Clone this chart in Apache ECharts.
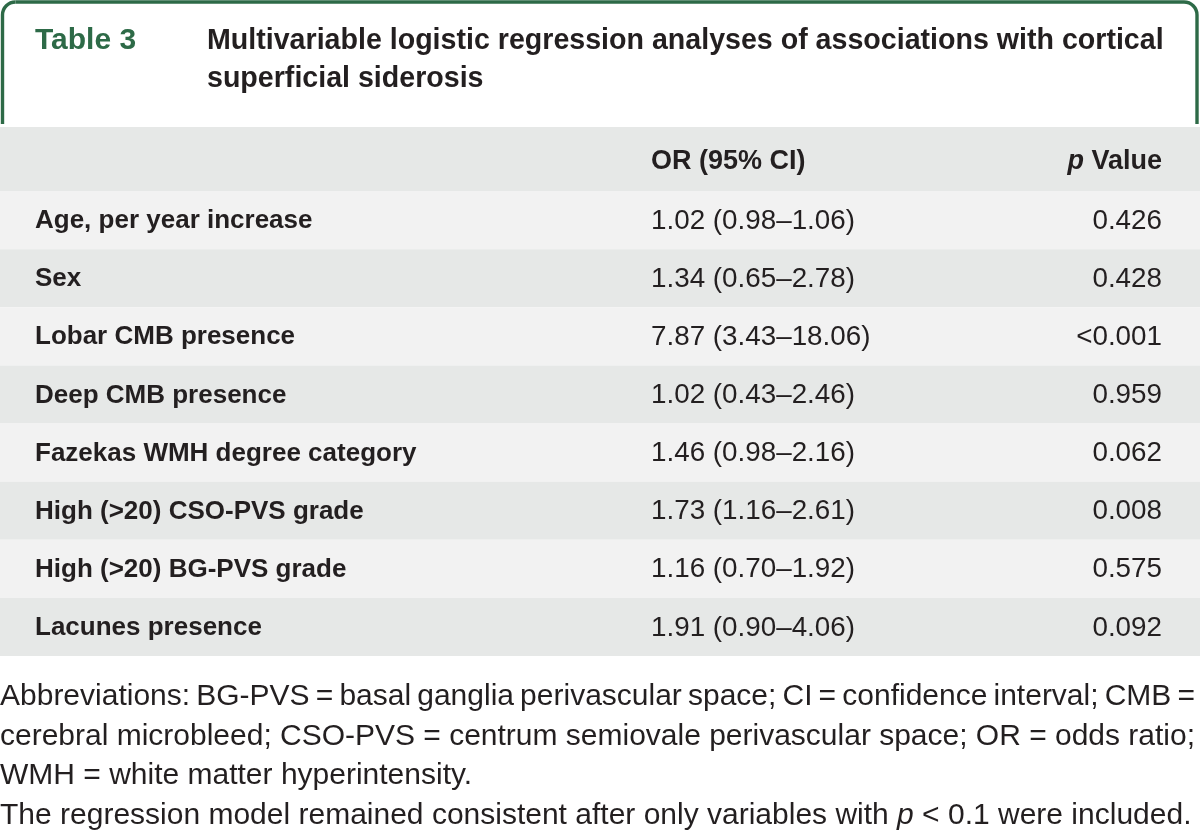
<!DOCTYPE html>
<html>
<head>
<meta charset="utf-8">
<script src="https://cdn.jsdelivr.net/npm/echarts@6/dist/echarts.min.js"></script>
<style>html,body{margin:0;padding:0;background:#fff}#c{width:1200px;height:832px}</style>
</head>
<body>
<div id="c"></div>
<script>
// ---- data ----
const variables = [
  'Age, per year increase',
  'Sex',
  'Lobar CMB presence',
  'Deep CMB presence',
  'Fazekas WMH degree category',
  'High (>20) CSO-PVS grade',
  'High (>20) BG-PVS grade',
  'Lacunes presence'
];
const oddsRatios = [1.02, 1.34, 7.87, 1.02, 1.46, 1.73, 1.16, 1.91];
const ciLower   = [0.98, 0.65, 3.43, 0.43, 0.98, 1.16, 0.70, 0.90];
const ciUpper   = [1.06, 2.78, 18.06, 2.46, 2.16, 2.61, 1.92, 4.06];
const pValues   = ['0.426', '0.428', '<0.001', '0.959', '0.062', '0.008', '0.575', '0.092'];
const columnHeaders = ['OR (95% CI)', 'p Value'];
const tableLabel = 'Table 3';
const titleLines = ['Multivariable logistic regression analyses of associations with cortical', 'superficial siderosis'];
const footnoteLines = [
  'Abbreviations: BG-PVS = basal ganglia perivascular space; CI = confidence interval; CMB =',
  'cerebral microbleed; CSO-PVS = centrum semiovale perivascular space; OR = odds ratio;',
  'WMH = white matter hyperintensity.',
  'The regression model remained consistent after only variables with {i|p} < 0.1 were included.'
];
const justifiedLines = [true, true, false, false];

// ---- style ----
const FONT = '"Liberation Sans", Arial, Helvetica, sans-serif';
const GREEN = '#2d6a47';
const INK = '#231f20';
const LIGHT = '#f2f2f2';
const DARK = '#e6e8e7';
const FOOT_FONT = '30px ' + FONT;

const chart = echarts.init(document.getElementById('c'), null, {renderer: 'canvas'});

function ciText(i) {
  return oddsRatios[i].toFixed(2) + ' (' + ciLower[i].toFixed(2) + '\u2013' + ciUpper[i].toFixed(2) + ')';
}

const measureCtx = document.createElement('canvas').getContext('2d');
function textWidth(t, font) { measureCtx.font = font; return measureCtx.measureText(t).width; }

const graphics = [];
// green frame
const g = {stroke: GREEN, lineWidth: 3.4, fill: null};
const R = 13;
graphics.push({type: 'line', shape: {x1: 2.5, y1: 124, x2: 2.5, y2: 2 + R}, style: g});
graphics.push({type: 'arc', shape: {cx: 2.5 + R, cy: 2 + R, r: R, startAngle: Math.PI, endAngle: Math.PI * 1.5}, style: g});
graphics.push({type: 'line', shape: {x1: 2.5 + R, y1: 2, x2: 1197 - R, y2: 2}, style: g});
graphics.push({type: 'arc', shape: {cx: 1197 - R, cy: 2 + R, r: R, startAngle: Math.PI * 1.5, endAngle: Math.PI * 2}, style: g});
graphics.push({type: 'line', shape: {x1: 1197, y1: 2 + R, x2: 1197, y2: 124}, style: g});
// title
graphics.push({type: 'text', x: 35, y: 41, style: {text: tableLabel, font: 'bold 30px ' + FONT, fill: GREEN, verticalAlign: 'middle'}});
titleLines.forEach((t, k) => {
  graphics.push({type: 'text', x: 207, y: 41 + k * 38.5, style: {text: t, font: 'bold 28.6px ' + FONT, fill: INK, verticalAlign: 'middle'}});
});
// header band
graphics.push({type: 'rect', shape: {x: 0, y: 127, width: 1200, height: 64}, style: {fill: DARK}});
graphics.push({type: 'text', x: 651, y: 162, style: {text: columnHeaders[0], font: 'bold 27px ' + FONT, fill: INK, verticalAlign: 'middle'}});
graphics.push({type: 'text', x: 1162, y: 162, style: {
  text: '{i|' + columnHeaders[1].split(' ')[0] + '} ' + columnHeaders[1].split(' ').slice(1).join(' '),
  font: 'bold 27px ' + FONT, fill: INK, align: 'right', verticalAlign: 'middle',
  rich: {i: {fontStyle: 'italic', fontWeight: 'bold', fontSize: 27, fontFamily: FONT, fill: INK}}
}});
// footnotes
const FOOT_WIDTH = 1195;
footnoteLines.forEach((t, k) => {
  const y = 697 + k * 39.6;
  if (justifiedLines[k]) {
    const words = t.split(' ');
    const widths = words.map(w => textWidth(w, FOOT_FONT));
    const total = widths.reduce((a, b) => a + b, 0);
    const gap = (FOOT_WIDTH - total) / (words.length - 1);
    let x = 0;
    words.forEach((w, j) => {
      graphics.push({type: 'text', x: x, y: y, style: {text: w, font: FOOT_FONT, fill: INK, verticalAlign: 'middle'}});
      x += widths[j] + gap;
    });
  } else {
    graphics.push({type: 'text', x: 0, y: y, style: {
      text: t, font: FOOT_FONT, fill: INK, verticalAlign: 'middle',
      rich: {i: {fontStyle: 'italic', fontSize: 30, fontFamily: FONT, fill: INK}}
    }});
  }
});

const option = {
  animation: false,
  backgroundColor: '#ffffff',
  grid: {left: 0, right: 0, top: 191, bottom: 176, containLabel: false},
  xAxis: {type: 'value', min: 0, max: 1, show: false},
  yAxis: {type: 'category', data: variables, inverse: true, show: false},
  series: [{
    type: 'custom',
    data: variables.map((v, i) => [0, i]),
    encode: {x: 0, y: 1},
    renderItem: function (params, api) {
      const i = api.value(1);
      const c = api.coord([0, i]);
      const band = api.size([0, 1])[1];
      const cs = params.coordSys;
      const y = c[1];
      return {
        type: 'group',
        children: [
          {type: 'rect', shape: {x: cs.x, y: y - band / 2, width: cs.width, height: band}, style: {fill: i % 2 === 0 ? LIGHT : DARK}},
          {type: 'text', x: 35, y: y + 1, style: {text: variables[i], font: 'bold 26px ' + FONT, fill: INK, verticalAlign: 'middle'}},
          {type: 'text', x: 651, y: y + 1, style: {text: ciText(i), font: '27.8px ' + FONT, fill: INK, verticalAlign: 'middle'}},
          {type: 'text', x: 1162, y: y + 1, style: {text: pValues[i], font: '27.8px ' + FONT, fill: INK, align: 'right', verticalAlign: 'middle'}}
        ]
      };
    }
  }],
  graphic: graphics
};
chart.setOption(option);
</script>
</body>
</html>
